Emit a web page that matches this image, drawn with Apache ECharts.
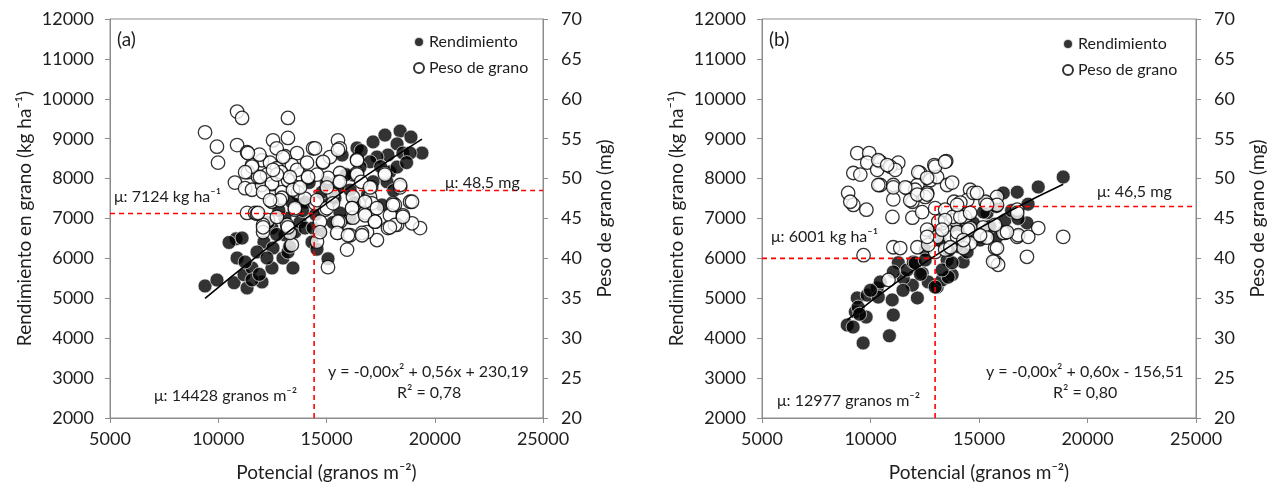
<!DOCTYPE html>
<html><head><meta charset="utf-8">
<script src="https://cdn.jsdelivr.net/npm/echarts@6/dist/echarts.min.js"></script>
<style>html,body{margin:0;padding:0;background:#fff}#c{width:1274px;height:489px}</style>
</head><body><div id="c"></div>
<script>
// ---------- data ----------
const xTicks = [5000, 10000, 15000, 20000, 25000];
const yieldTicks = [2000, 3000, 4000, 5000, 6000, 7000, 8000, 9000, 10000, 11000, 12000];
const weightTicks = [20, 25, 30, 35, 40, 45, 50, 55, 60, 65, 70];

// Panel (a) – Rendimiento (kg/ha) vs Potencial
const aYieldX = [9390,9940,10820,11100,10870,10730,11330,11190,11560,12020,12110,12480,12530,12990,13220,13450,13080,13540,11790,12250,11560,13780,14010,14380,14330,13080,13680,14010,13400,12480,11240,14560,15070,16410,17150,17700,18400,18900,19410,18260,17840,17330,17010,16550,16220,17930,18530,18860,18260,17790,17150,16090,15530,15720,16090,15620,14700,15160,14790,15390,17560,16690,12300,12800,13900,14500,15000,15900,16600,16900,17500,18100,14200,13300,11900,10500,12700,18700,16300,15300];
const aYieldY = [5310,5460,6490,6510,6010,5390,5260,5590,5760,5410,6410,5760,6260,6010,6160,5760,6590,6660,6160,6010,5460,6910,6760,6760,6410,7010,7590,7410,7410,6760,5910,6230,5990,8770,8920,9090,9190,9040,8640,8870,8590,8540,8420,8290,8090,8170,8640,8640,8290,7920,7920,7710,7790,8590,7010,7140,6660,7410,7660,7510,7340,7160,6900,7200,7200,7100,7900,8100,8700,7600,8300,7700,7900,6300,5600,6400,6600,8400,7400,6900];
// Panel (a) – Peso de grano (mg) vs Potencial
const aWeightX = [10870,11100,9390,9940,9990,10870,11330,12020,12530,13220,13220,13080,13640,14380,11560,11370,12390,12710,13400,10770,11240,11560,12020,12480,12940,13220,13780,14150,13680,11840,12250,11330,11700,12300,13540,13220,13400,12940,12480,12070,12070,13310,13180,11790,15530,14840,15160,16410,15620,16410,17700,18400,18860,17060,13450,15530,16220,17010,18070,13640,15620,14470,15070,14560,16410,18160,17930,18530,19320,18950,18260,17840,17330,16870,16640,17240,16780,16180,16220,15620,15530,16090,14930,14700,14470,14560,15950,15070,17100,16600,14000,15300,12900,11900,12700,
  11370,11560,12990,14840,15530,12480,12070,13780,14150,13310,12710,11240,15620,16410,15020,17010,17700,18400,12850,13540,12390,11840,14560,15020,15300,16180,16780,17330,18070,18950,12070,13220,15530,16780,17240,18160,18530,15490,15990,16640,17930,14700,12530,14100,11930,12710];
const aWeightY = [58.4,57.6,55.8,54.0,52.0,54.2,53.3,52.3,54.8,57.6,55.1,52.8,53.2,53.8,51.7,50.8,52.0,51.3,51.7,49.5,48.8,48.6,49.2,49.3,48.3,49.8,50.5,50.1,48.3,50.2,50.5,45.7,45.7,44.8,46.1,43.9,41.7,47.6,47.1,44.2,43.3,43.2,44.2,45.6,54.8,52.0,52.7,52.4,50.7,50.7,50.7,48.9,47.1,48.9,48.6,49.6,47.7,47.7,46.9,51.1,53.8,53.8,50.1,50.5,50.5,46.7,45.4,45.4,43.8,44.4,44.2,43.8,42.3,43.3,43.2,44.6,45.7,46.3,45.1,44.6,43.2,42.9,46.1,44.6,46.9,42.1,41.1,38.9,46.9,49.6,47.5,48.0,50.8,53.0,53.8,
  53.2,51.5,52.7,52.1,53.6,49.4,48.3,48.9,50.2,50.2,50.5,50.8,49.6,52.3,48.9,48.9,50.5,49.2,47.3,46.3,47.3,45.7,47.3,46.3,46.9,46.3,47.1,46.3,46.7,47.1,43.9,43.9,44.6,45.4,44.6,44.2,45.2,43.2,42.9,42.9,43.9,43.3,51.1,52.0,50.2,45.2];
const aTrendX = [9390, 11900, 14400, 16900, 19410];
const aTrendY = [5000, 6100, 7140, 8100, 8990];

// Panel (b) – Rendimiento
const bYieldX = [8930,9200,9660,9300,9390,9800,9850,9430,10310,10450,10360,11000,11050,10870,12160,11930,11510,11280,11050,11690,12380,11970,12660,13070,13300,13760,13530,14270,14450,15050,15830,16200,17210,17260,15370,13990,13210,12520,12890,18880,17730,16760,16120,15200,14740,12060,12520,12980,13580,13300,13760,14000,14800,15500,16500,13600,12300,10000,9500,11500,16800,15800];
const bYieldY = [4330,4280,3880,4660,5010,4530,5080,4780,5260,5410,5030,4960,4580,4060,5010,5330,5510,5890,5660,5710,5630,5910,5410,5280,5460,5590,5960,5910,6160,6460,6540,6960,6890,7360,7140,6760,6460,6210,6640,8040,7790,7660,7640,7160,6890,5890,5960,5280,5530,5710,5890,6300,6600,6800,7200,6200,5600,5200,4600,5200,7000,7300];
// Panel (b) – Peso de grano
const bWeightX = [9390,9940,9850,10450,11280,13490,12940,9210,9530,10310,10910,11140,12290,12750,13070,10450,11050,11690,12160,12610,13530,8970,11050,11930,12520,9210,9810,14590,15830,15370,13850,14460,16760,10360,12980,13440,12200,12610,13760,12060,11830,11010,11930,12380,12980,13440,13900,13300,12610,13070,13670,11050,11370,12160,9680,12980,12660,13440,10830,13120,13790,14350,15190,16200,16760,16760,17210,17730,18880,15740,15740,15880,14970,14600,15300,16810,17270,16120,15650,15370,14600,14280,13990,14140,9070,10360,11050,11600,14740,
  10770,12160,12610,14910,15830,14140,13440,14590,13300,13990,14500,15050,15740,16290,15830,14280,13680,12610,13990,15370];
const bWeightY = [53.2,53.2,52.0,52.1,52.0,52.2,51.7,50.7,50.5,51.1,51.5,51.1,50.7,49.8,50.2,49.2,49.2,48.8,49.2,48.2,49.2,48.2,47.4,47.1,47.7,46.7,46.1,48.6,47.7,46.9,47.1,47.3,46.1,52.3,51.5,52.1,50.8,50.1,49.5,48.6,47.3,45.2,45.1,45.8,46.3,46.1,44.8,44.4,43.6,42.7,42.6,41.4,41.3,41.4,40.4,40.8,41.7,41.1,37.3,44.6,45.2,45.2,43.9,43.2,45.7,42.7,40.2,43.8,42.7,41.3,39.6,39.2,42.9,43.8,47.1,42.9,42.7,43.2,39.6,42.6,41.9,41.3,42.7,47.0,47.1,49.2,48.9,48.9,48.2,
  51.7,48.0,48.0,48.2,46.7,45.2,44.8,45.7,43.6,43.3,43.6,42.9,44.2,43.3,41.3,42.3,41.4,42.7,46.7,46.7];
const bTrendX = [8930, 11400, 13900, 16400, 18880];
const bTrendY = [4460, 5480, 6390, 7180, 7860];

// means
const meanPot = [14428, 12977];
const meanYield = [7124, 6001];
const meanWeight = [48.5, 46.5];

// ---------- chart ----------
const F = 'Lato, "Liberation Sans", sans-serif';
const AX = '#8c8c8c';
const TXT = '#1e1e1e';
const zip = (xs, ys) => xs.map((x, i) => [x, ys[i]]);
const plain = v => String(v);

const grids = [
  {left: 110, top: 19, width: 433, height: 399},
  {left: 762, top: 19, width: 434, height: 399}
];

function xAx(gi) {
  return {gridIndex: gi, type: 'value', min: xTicks[0], max: xTicks[xTicks.length-1], interval: xTicks[1]-xTicks[0],
    name: 'Potencial (granos m⁻²)', nameLocation: 'middle', nameGap: 45,
    nameTextStyle: {fontSize: 19, color: TXT, fontFamily: F},
    axisLine: {show: true, lineStyle: {color: AX, width: 1}},
    axisTick: {show: true, length: 5, lineStyle: {color: AX}},
    axisLabel: {fontSize: 18, color: TXT, fontFamily: F, margin: 12, formatter: plain},
    splitLine: {show: false}};
}
function yLeft(gi) {
  return {gridIndex: gi, type: 'value', position: 'left', min: yieldTicks[0], max: yieldTicks[yieldTicks.length-1], interval: yieldTicks[1]-yieldTicks[0],
    name: 'Rendimiento en grano (kg ha⁻¹)', nameLocation: 'middle', nameGap: 76, nameRotate: 90,
    nameTextStyle: {fontSize: 19, color: TXT, fontFamily: F},
    axisLine: {show: true, lineStyle: {color: AX}},
    axisTick: {show: true, length: 5, lineStyle: {color: AX}},
    axisLabel: {fontSize: 18, color: TXT, fontFamily: F, margin: 16, formatter: plain},
    splitLine: {show: false}};
}
function yRight(gi) {
  return {gridIndex: gi, type: 'value', position: 'right', min: weightTicks[0], max: weightTicks[weightTicks.length-1], interval: weightTicks[1]-weightTicks[0],
    name: 'Peso de grano (mg)', nameLocation: 'middle', nameGap: 52, nameRotate: 90,
    nameTextStyle: {fontSize: 19, color: TXT, fontFamily: F},
    axisLine: {show: true, lineStyle: {color: AX}},
    axisTick: {show: true, length: 5, lineStyle: {color: AX}},
    axisLabel: {fontSize: 18, color: TXT, fontFamily: F, margin: 18, formatter: plain},
    splitLine: {show: false}};
}

const blackStyle = {color: '#000', borderColor: '#fff', borderWidth: 0.8};
const whiteStyle = {color: '#fff', borderColor: '#000', borderWidth: 1.3};
const redLine = {color: '#ff0000', width: 1.6, type: [5, 4]};

function panelSeries(gi, yX, yY, wX, wY, tX, tY) {
  const xi = gi, yl = gi * 2, yr = gi * 2 + 1;
  const xMin = xTicks[0], xMax = xTicks[xTicks.length-1];
  return [
    {type: 'scatter', name: 'Rendimiento', xAxisIndex: xi, yAxisIndex: yl, data: zip(yX, yY), symbol: 'circle', symbolSize: 14, itemStyle: blackStyle, z: 2},
    {type: 'scatter', name: 'Peso de grano', xAxisIndex: xi, yAxisIndex: yr, data: zip(wX, wY), symbol: 'circle', symbolSize: 13.5, itemStyle: whiteStyle, z: 3},
    {type: 'line', name: 'tendencia', xAxisIndex: xi, yAxisIndex: yl, data: zip(tX, tY), smooth: true, showSymbol: false, lineStyle: {color: '#000', width: 1.6}, z: 5, silent: true},
    {type: 'line', name: 'm1', xAxisIndex: xi, yAxisIndex: yl, data: [[xMin, meanYield[gi]], [meanPot[gi], meanYield[gi]]], showSymbol: false, lineStyle: redLine, z: 6, silent: true},
    {type: 'line', name: 'm2', xAxisIndex: xi, yAxisIndex: yr, data: [[meanPot[gi], weightTicks[0]], [meanPot[gi], meanWeight[gi]]], showSymbol: false, lineStyle: redLine, z: 6, silent: true},
    {type: 'line', name: 'm3', xAxisIndex: xi, yAxisIndex: yr, data: [[meanPot[gi], meanWeight[gi]], [xMax, meanWeight[gi]]], showSymbol: false, lineStyle: redLine, z: 6, silent: true}
  ];
}

function txt(left, top, text, size) {
  return {type: 'text', left: left, top: top, z: 10, style: {text: text, fontSize: size || 16, fontFamily: F, fill: TXT}};
}

const fmt = v => v.toString();
const fmtDec = v => v.toFixed(1).replace('.', ',');

const legendCommon = {orient: 'vertical', itemWidth: 10, itemHeight: 10, itemGap: 10,
  textStyle: {fontSize: 16, color: TXT, fontFamily: F},
  data: [{name: 'Rendimiento', icon: 'circle'}, {name: 'Peso de grano', icon: 'circle'}]};

const option = {
  animation: false,
  backgroundColor: '#fff',
  grid: grids.map(g => Object.assign({show: true, borderColor: AX, borderWidth: 1, backgroundColor: 'transparent', containLabel: false}, g)),
  xAxis: [xAx(0), xAx(1)],
  yAxis: [yLeft(0), yRight(0), yLeft(1), yRight(1)],
  legend: [
    Object.assign({left: 408, top: 29}, legendCommon),
    Object.assign({left: 1057, top: 31}, legendCommon)
  ],
  series: [].concat(
    panelSeries(0, aYieldX, aYieldY, aWeightX, aWeightY, aTrendX, aTrendY),
    panelSeries(1, bYieldX, bYieldY, bWeightX, bWeightY, bTrendX, bTrendY)
  ),
  graphic: [
    txt(117, 30, '(a)', 19),
    txt(114, 189, 'μ: ' + fmt(meanYield[0]) + ' kg ha⁻¹'),
    txt(445, 175, 'μ: ' + fmtDec(meanWeight[0]) + ' mg'),
    txt(154, 388, 'μ: ' + fmt(meanPot[0]) + ' granos m⁻²'),
    txt(328, 364, 'y = -0,00x² + 0,56x + 230,19'),
    txt(397, 385, 'R² = 0,78'),
    txt(769, 30, '(b)', 19),
    txt(1097, 184, 'μ: ' + fmtDec(meanWeight[1]) + ' mg'),
    txt(771, 229, 'μ: ' + fmt(meanYield[1]) + ' kg ha⁻¹'),
    txt(777, 393, 'μ: ' + fmt(meanPot[1]) + ' granos m⁻²'),
    txt(986, 364, 'y = -0,00x² + 0,60x - 156,51'),
    txt(1053, 385, 'R² = 0,80')
  ]
};

const chart = echarts.init(document.getElementById('c'), null, {renderer: 'canvas'});
chart.setOption(option);
</script>
</body></html>
